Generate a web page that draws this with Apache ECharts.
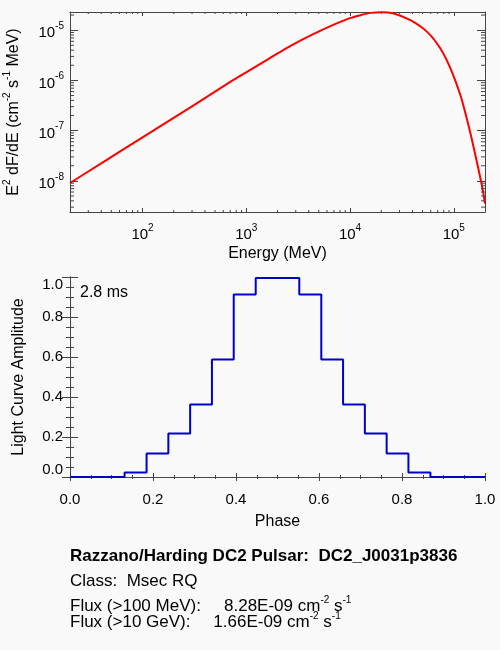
<!DOCTYPE html>
<html>
<head>
<meta charset="utf-8">
<script src="https://cdn.jsdelivr.net/npm/echarts@6/dist/echarts.min.js"></script>
<style>
html,body{margin:0;padding:0;background:#f9f9f9;}
#c{width:500px;height:650px;}
</style>
</head>
<body>
<div id="c"></div>
<script>
// ---- Spectrum (top panel) ----
const energyMeV = [20, 39, 100, 316, 701, 1016, 1469, 2128, 3083, 4467, 6471, 8072, 10140, 12590, 15810, 20040, 26360, 38190, 55340, 74300, 92900, 115900, 129700, 144900, 168300, 187900, 200000];
const e2dfde   = [9.08e-9, 2.16e-8, 7.35e-8, 3.27e-7, 9.33e-7, 1.48e-6, 2.34e-6, 3.70e-6, 5.69e-6, 8.41e-6, 1.20e-5, 1.46e-5, 1.76e-5, 1.99e-5, 2.21e-5, 2.286e-5, 2.15e-5, 1.58e-5, 9.25e-6, 4.32e-6, 1.73e-6, 5.07e-7, 2.19e-7, 8.75e-8, 2.21e-8, 7.55e-9, 3.53e-9];

// ---- Light curve (bottom panel) ----
const phase     = [0.000, 0.053, 0.105, 0.158, 0.211, 0.263, 0.316, 0.368, 0.421, 0.474, 0.526, 0.579, 0.632, 0.684, 0.737, 0.789, 0.842, 0.895, 0.947, 1.000];
const amplitude = [0, 0, 0, 0.023, 0.117, 0.217, 0.362, 0.587, 0.912, 0.995, 0.995, 0.912, 0.587, 0.362, 0.217, 0.117, 0.023, 0, 0, 0];

// ---- Axis ranges / ticks ----
const energyRange = [20, 2e5];
const fluxRange = [2.4e-9, 2.3e-5];
const energyDecades = [10, 100, 1000, 10000, 100000];
const fluxDecades = [1e-9, 1e-8, 1e-7, 1e-6, 1e-5];
const minorMultipliers = [2, 3, 4, 5, 6, 7, 8, 9];
const phaseTicks = [0, 1, 0.2];
const ampTicks = [0, 1, 0.2];

// ---- Text ----
const lcLabel = '2.8 ms';
const infoTitle = 'Razzano/Harding DC2 Pulsar:  DC2_J0031p3836';
const infoClass = 'Class:  Msec RQ';
const fluxLabel1 = 'Flux (>100 MeV):';
const fluxValue1 = '8.28E-09';
const fluxLabel2 = 'Flux (>10 GeV):';
const fluxValue2 = '1.66E-09';

const FONT = '"Liberation Sans", Arial, Helvetica, sans-serif';
const AX = '#444';
const TXT = '#000';

function minorList(decades, range) {
  const out = [];
  decades.forEach(d => minorMultipliers.forEach(m => {
    const v = d * m;
    if (v > range[0] && v < range[1]) out.push(v);
  }));
  return out;
}
const xMinor = minorList(energyDecades, energyRange);
const yMinor = minorList(fluxDecades, fluxRange);

// base glyphs bottom-aligned in a taller line, superscripts top-aligned
const tickRich = {
  b: {fontSize: 15, lineHeight: 21, verticalAlign: 'bottom', fontFamily: FONT, color: TXT},
  s: {fontSize: 10, padding: [1.5, 0, 0, 0], verticalAlign: 'top', fontFamily: FONT, color: TXT}
};
const nameRich = {
  b: {fontSize: 16, lineHeight: 22, verticalAlign: 'bottom', fontFamily: FONT, color: TXT},
  s: {fontSize: 10, padding: [2, 0, 0, 0], verticalAlign: 'top', fontFamily: FONT, color: TXT}
};
const infoRich = {
  b: {fontSize: 17, lineHeight: 24, verticalAlign: 'bottom', fontFamily: FONT, color: TXT},
  s: {fontSize: 10, padding: [4, 0, 0, 0], verticalAlign: 'top', fontFamily: FONT, color: TXT}
};
function logLabel(v) {
  const e = Math.round(Math.log10(v));
  return '{b|10}{s|' + e + '}';
}

const axisLine = {show: true, lineStyle: {color: AX, width: 1}};

function logX(pos, showLabel) {
  return {
    type: 'log', gridIndex: 0, position: pos, min: energyRange[0], max: energyRange[1],
    axisLine: axisLine,
    axisTick: {show: true, inside: true, length: 4, lineStyle: {color: AX}},
    minorTick: {show: false}, splitLine: {show: false},
    axisLabel: {show: showLabel, formatter: logLabel, rich: tickRich, margin: 9.5, showMinLabel: false, showMaxLabel: false},
    name: showLabel ? 'Energy (MeV)' : '', nameLocation: 'middle', nameGap: 34,
    nameTextStyle: {fontSize: 16, fontFamily: FONT, color: TXT}
  };
}
function logY(pos, showLabel) {
  return {
    type: 'log', gridIndex: 0, position: pos, min: fluxRange[0], max: fluxRange[1],
    axisLine: axisLine,
    axisTick: {show: true, inside: true, length: 8, lineStyle: {color: AX}},
    minorTick: {show: false}, splitLine: {show: false},
    axisLabel: {show: showLabel, formatter: logLabel, rich: tickRich, margin: 6, showMinLabel: false, showMaxLabel: false},
    name: showLabel ? '{b|E}{s|2}{b| dF/dE (cm}{s|-2}{b| s}{s|-1}{b| MeV)}' : '',
    nameLocation: 'middle', nameGap: 48,
    nameTextStyle: {fontSize: 16, fontFamily: FONT, color: TXT, rich: nameRich}
  };
}
function linX(pos, showLabel) {
  return {
    type: 'value', gridIndex: 1, position: pos, min: phaseTicks[0], max: phaseTicks[1], interval: phaseTicks[2],
    axisLine: axisLine,
    axisTick: {show: true, inside: true, length: 4, lineStyle: {color: AX}},
    minorTick: {show: true, splitNumber: 4, length: 2, lineStyle: {color: AX}},
    splitLine: {show: false}, minorSplitLine: {show: false},
    axisLabel: {show: showLabel, formatter: v => v.toFixed(1), fontSize: 15, fontFamily: FONT, color: TXT, margin: 15},
    name: showLabel ? 'Phase' : '', nameLocation: 'middle', nameGap: 37,
    nameTextStyle: {fontSize: 16, fontFamily: FONT, color: TXT}
  };
}
function linY(pos, showLabel) {
  return {
    type: 'value', gridIndex: 1, position: pos, min: ampTicks[0], max: ampTicks[1], interval: ampTicks[2],
    axisLine: axisLine,
    axisTick: {show: true, inside: true, length: 8, lineStyle: {color: AX}},
    minorTick: {show: true, splitNumber: 4, length: 4, lineStyle: {color: AX}},
    splitLine: {show: false}, minorSplitLine: {show: false},
    axisLabel: {show: showLabel, formatter: v => v.toFixed(1), fontSize: 15, fontFamily: FONT, color: TXT, margin: 7,
      verticalAlignMinLabel: 'bottom', verticalAlignMaxLabel: 'top'},
    name: showLabel ? 'Light Curve Amplitude' : '', nameLocation: 'middle', nameGap: 43,
    nameTextStyle: {fontSize: 16, fontFamily: FONT, color: TXT}
  };
}

function minorTickSeries(values, isX, len) {
  return {
    type: 'custom', xAxisIndex: 0, yAxisIndex: 0, silent: true, clip: false, z: 5,
    data: values.map(v => isX ? [v, 1e-6] : [1000, v]),
    renderItem: function (params, api) {
      const p = api.coord([api.value(0), api.value(1)]);
      const cs = params.coordSys;
      const st = {stroke: AX, lineWidth: 1};
      if (isX) {
        const t = cs.y, b = cs.y + cs.height;
        return {type: 'group', children: [
          {type: 'line', shape: {x1: p[0], y1: b, x2: p[0], y2: b - len}, style: st},
          {type: 'line', shape: {x1: p[0], y1: t, x2: p[0], y2: t + len}, style: st}
        ]};
      } else {
        const l = cs.x, r = cs.x + cs.width;
        return {type: 'group', children: [
          {type: 'line', shape: {x1: l, y1: p[1], x2: l + len, y2: p[1]}, style: st},
          {type: 'line', shape: {x1: r, y1: p[1], x2: r - len, y2: p[1]}, style: st}
        ]};
      }
    }
  };
}

const chart = echarts.init(document.getElementById('c'), null, {renderer: 'canvas'});
chart.setOption({
  animation: false,
  backgroundColor: '#f9f9f9',
  textStyle: {fontFamily: FONT},
  grid: [
    {left: 70, top: 12, width: 415, height: 200, outerBoundsMode: 'none', containLabel: false},
    {left: 70, top: 277, width: 415, height: 200, outerBoundsMode: 'none', containLabel: false}
  ],
  xAxis: [logX('bottom', true), logX('top', false), linX('bottom', true), linX('top', false)],
  yAxis: [logY('left', true), logY('right', false), linY('left', true), linY('right', false)],
  series: [
    {
      type: 'line', xAxisIndex: 0, yAxisIndex: 0,
      data: energyMeV.map((e, i) => [e, e2dfde[i]]),
      showSymbol: false, smooth: 0.3, z: 3,
      lineStyle: {color: '#ff0000', width: 2}
    },
    {
      type: 'line', xAxisIndex: 2, yAxisIndex: 2, step: 'middle',
      data: phase.map((p, i) => [p, amplitude[i]]),
      showSymbol: false, z: 3,
      lineStyle: {color: '#0000cc', width: 2}
    },
    minorTickSeries(xMinor, true, 2),
    minorTickSeries(yMinor, false, 4)
  ],
  graphic: [
    {type: 'text', x: 80, y: 292.7, style: {text: lcLabel, font: '16px ' + FONT, fill: TXT, verticalAlign: 'middle'}},
    {type: 'text', x: 70, y: 556.7, style: {text: infoTitle, font: 'bold 17px ' + FONT, fill: TXT, verticalAlign: 'middle'}},
    {type: 'text', x: 70, y: 581.7, style: {text: infoClass, font: '17px ' + FONT, fill: TXT, verticalAlign: 'middle'}},
    {type: 'text', x: 70, y: 606.7, style: {text: fluxLabel1, font: '17px ' + FONT, fill: TXT, verticalAlign: 'middle'}},
    {type: 'text', x: 224, y: 603.2, style: {text: '{b|' + fluxValue1 + ' cm}{s|-2}{b| s}{s|-1}', rich: infoRich, font: '17px ' + FONT, fill: TXT, verticalAlign: 'middle'}},
    {type: 'text', x: 70, y: 622.3, style: {text: fluxLabel2, font: '17px ' + FONT, fill: TXT, verticalAlign: 'middle'}},
    {type: 'text', x: 213.3, y: 618.8, style: {text: '{b|' + fluxValue2 + ' cm}{s|-2}{b| s}{s|-1}', rich: infoRich, font: '17px ' + FONT, fill: TXT, verticalAlign: 'middle'}}
  ]
});
</script>
</body>
</html>
